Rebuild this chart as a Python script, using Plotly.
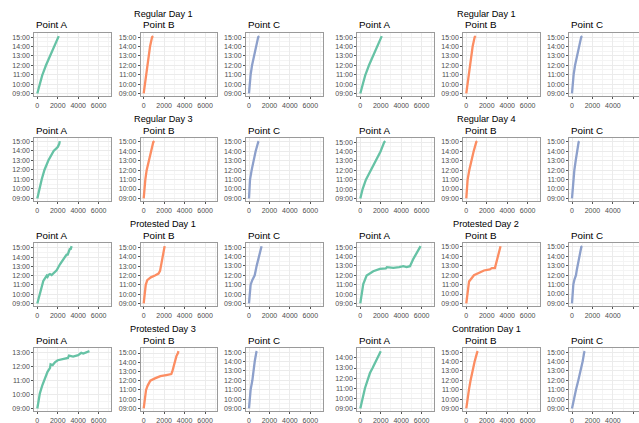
import plotly.graph_objects as go

# ---------------- data ----------------
group_titles = ["Regular Day 1", "Regular Day 1", "Regular Day 3", "Regular Day 4",
                "Protested Day 1", "Protested Day 2", "Protested Day 3", "Contration Day 1"]
point_names = ["Point A", "Point B", "Point C"]
point_colors = ["#66C2A5", "#FC8D62", "#8DA0CB"]
x_ticks = [0, 2000, 4000, 6000]
x_minor = [1000, 3000, 5000, 7000]

# Regular Day 1
rd1_a_x = [0, 150, 290, 270, 500, 520, 850, 1250, 1270, 1650, 2000, 2100]
rd1_a_t = ["09:00", "09:30", "10:00", "10:05", "11:00", "11:02", "12:00", "13:00", "13:04", "14:00", "15:00", "15:06"]
rd1_b_x = [0, 60, 120, 220, 330, 450, 620, 820, 930]
rd1_b_t = ["09:00", "09:30", "10:00", "11:00", "12:00", "13:00", "14:00", "15:00", "15:06"]
rd1_c_x = [0, 50, 160, 300, 490, 690, 900, 1000]
rd1_c_t = ["09:00", "10:00", "11:00", "12:00", "13:00", "14:00", "15:00", "15:06"]

# Regular Day 3
rd3_a_x = [0, 200, 430, 700, 1000, 1080, 1600, 2000, 2150, 2200]
rd3_a_t = ["09:00", "10:00", "11:00", "12:00", "12:50", "13:00", "14:00", "14:25", "14:45", "15:02"]
rd3_b_x = [0, 70, 160, 290, 520, 680, 940, 1050]
rd3_b_t = ["09:00", "10:00", "11:00", "12:00", "13:00", "14:00", "15:00", "15:05"]
rd3_c_x = [0, 40, 100, 260, 420, 650, 910, 960]
rd3_c_t = ["09:00", "10:00", "11:00", "12:00", "13:00", "14:00", "15:00", "15:04"]

# Regular Day 4
rd4_a_x = [0, 227, 550, 1010, 1530, 1980, 2340, 2450]
rd4_a_t = ["09:00", "10:00", "11:00", "12:00", "13:00", "14:00", "15:00", "15:06"]
rd4_b_x = [0, 60, 130, 290, 490, 720, 980, 1060]
rd4_b_t = ["09:00", "10:00", "11:00", "12:00", "13:00", "14:00", "15:00", "15:05"]
rd4_c_x = [0, 60, 130, 230, 360, 490, 650, 720]
rd4_c_t = ["09:00", "10:00", "11:00", "12:00", "13:00", "14:00", "15:00", "15:05"]

# Protested Day 1
pd1_a_x = [0, 326, 587, 913, 1000, 1100, 1240, 1400, 1566, 1700, 1892, 2218, 2708, 2900, 2950, 3197, 3250, 3360]
pd1_a_t = ["09:00", "10:22", "11:26", "11:59", "11:52", "12:05", "12:10", "12:04", "12:16", "12:22", "12:35", "13:14", "14:07", "14:20", "14:12", "14:56", "14:48", "15:11"]
pd1_b_x = [0, 80, 200, 350, 700, 1100, 1450, 1600, 1750, 1900, 2050]
pd1_b_t = ["09:00", "10:00", "11:00", "11:30", "11:48", "12:00", "12:12", "12:30", "13:30", "14:30", "15:09"]
pd1_c_x = [0, 100, 160, 330, 560, 750, 980, 1140, 1230]
pd1_c_t = ["09:00", "10:00", "11:00", "11:30", "12:00", "13:00", "14:00", "15:00", "15:06"]

# Protested Day 2
pd2_a_x = [0, 290, 620, 1270, 1920, 2500, 2600, 3230, 3800, 4200, 4530, 4860, 5190, 5680, 5840, 5900]
pd2_a_t = ["09:00", "11:04", "11:58", "12:26", "12:41", "12:44", "12:52", "12:47", "12:52", "12:58", "12:52", "12:58", "13:45", "14:42", "15:04", "15:06"]
pd2_b_x = [0, 120, 270, 750, 1200, 1730, 2300, 2500, 2800, 2900, 3100, 3300, 3350]
pd2_b_t = ["09:00", "10:00", "11:20", "12:00", "12:15", "12:30", "12:37", "12:45", "12:45", "13:10", "14:05", "14:55", "15:05"]
pd2_c_x = [0, 60, 130, 230, 390, 460, 550, 750, 910, 1000]
pd2_c_t = ["09:00", "10:00", "11:00", "11:30", "12:00", "12:30", "13:00", "14:00", "15:00", "15:05"]

# Protested Day 3
pd3_a_x = [0, 250, 500, 750, 1000, 1250, 1300, 1500, 1750, 2000, 2500, 3000, 3100, 3500, 4000, 4300, 4500, 5000, 5100]
pd3_a_t = ["09:00", "10:05", "10:41", "11:10", "11:38", "11:55", "12:10", "12:07", "12:20", "12:28", "12:33", "12:38", "12:48", "12:44", "12:50", "13:00", "12:57", "13:04", "13:07"]
pd3_b_x = [0, 100, 230, 400, 650, 1100, 1630, 2200, 2700, 2800, 3000, 3200, 3350, 3400]
pd3_b_t = ["09:00", "10:00", "11:00", "11:30", "12:00", "12:15", "12:30", "12:37", "12:43", "13:00", "14:00", "14:40", "15:00", "15:12"]
pd3_c_x = [0, 80, 160, 330, 430, 560, 720, 770]
pd3_c_t = ["09:00", "10:00", "11:00", "12:00", "13:00", "14:00", "15:00", "15:06"]

# Contration Day 1
cd1_a_x = [0, 230, 455, 780, 945, 1200, 1430, 1660, 1920, 2000]
cd1_a_t = ["09:00", "10:00", "11:00", "12:00", "12:30", "13:00", "13:30", "14:00", "14:30", "14:40"]
cd1_b_x = [0, 100, 260, 420, 590, 815, 1070, 1130]
cd1_b_t = ["09:00", "10:00", "11:00", "12:00", "13:00", "14:00", "15:00", "15:06"]
cd1_c_x = [0, 160, 390, 620, 850, 1040, 1200, 1250]
cd1_c_t = ["09:00", "10:00", "11:00", "12:00", "13:00", "14:00", "15:00", "15:06"]

group_series = [
    [(rd1_a_x, rd1_a_t), (rd1_b_x, rd1_b_t), (rd1_c_x, rd1_c_t)],
    [(rd1_a_x, rd1_a_t), (rd1_b_x, rd1_b_t), (rd1_c_x, rd1_c_t)],
    [(rd3_a_x, rd3_a_t), (rd3_b_x, rd3_b_t), (rd3_c_x, rd3_c_t)],
    [(rd4_a_x, rd4_a_t), (rd4_b_x, rd4_b_t), (rd4_c_x, rd4_c_t)],
    [(pd1_a_x, pd1_a_t), (pd1_b_x, pd1_b_t), (pd1_c_x, pd1_c_t)],
    [(pd2_a_x, pd2_a_t), (pd2_b_x, pd2_b_t), (pd2_c_x, pd2_c_t)],
    [(pd3_a_x, pd3_a_t), (pd3_b_x, pd3_b_t), (pd3_c_x, pd3_c_t)],
    [(cd1_a_x, cd1_a_t), (cd1_b_x, cd1_b_t), (cd1_c_x, cd1_c_t)],
]


def to_hours(t):
    h, m = t.split(":")
    return int(h) + int(m) / 60.0


# ---------------- layout ----------------
W, H = 639, 423
FONT = "Liberation Sans, Arial, Helvetica, sans-serif"
col_left = [34.3, 140.7, 246.0, 357.3, 463.3, 569.0]
panel_w = 76.7
row_top = [33.3, 138.3, 243.3, 348.3]
panel_h = 63.0
group_center = [163, 486]
x_lo, x_hi = -293, 7210
border = "#9a9a9a"
grid_major = "#EBEBEB"
grid_minor = "#F4F4F4"

fig = go.Figure()
layout = dict(
    width=W, height=H, margin=dict(l=0, r=0, t=0, b=0),
    paper_bgcolor="white", plot_bgcolor="white", showlegend=False,
    font=dict(family=FONT, color="#000000"),
    template="none",
)
annotations = []

for g, title in enumerate(group_titles):
    r, gc = divmod(g, 2)
    annotations.append(dict(text=title, x=group_center[gc] / W, y=1 - (row_top[r] - 19.3) / H,
                            xref="paper", yref="paper", xanchor="center", yanchor="middle",
                            showarrow=False, font=dict(size=9.2, color="#000000", family=FONT)))
    for p in range(3):
        c = gc * 3 + p
        k = r * 6 + c + 1
        xs, ts = group_series[g][p]
        ys = [to_hours(t) for t in ts]
        ax = "" if k == 1 else str(k)
        fig.add_trace(go.Scatter(x=xs, y=ys, mode="lines",
                                 line=dict(color=point_colors[p], width=2.3),
                                 xaxis="x" + ax, yaxis="y" + ax, hoverinfo="skip"))
        left = col_left[c]
        right = min(left + panel_w, W)
        xr_hi = x_lo + (right - left) / panel_w * (x_hi - x_lo)
        ymin, ymax = min(ys), max(ys)
        span = ymax - ymin
        yr = [ymin - 0.05 * span, ymax + 0.05 * span]
        hours = [h for h in range(0, 24) if yr[0] <= h <= yr[1]]
        halves = [h + 0.5 for h in range(0, 24) if yr[0] <= h + 0.5 <= yr[1]]
        clipped = right < left + panel_w
        layout["xaxis" + ax] = dict(
            domain=[left / W, right / W], anchor="y" + ax, range=[x_lo, xr_hi],
            showline=True, linecolor=border, linewidth=1, mirror=True,
            ticks="outside", ticklen=2, tickcolor="#555555", tickwidth=0.8,
            tickvals=x_ticks, ticktext=[str(v) for v in x_ticks],
            tickfont=dict(size=7, color="#4D4D4D", family=FONT),
            showgrid=True, gridcolor=grid_major, gridwidth=1, zeroline=False,
            minor=dict(tickvals=x_minor, showgrid=True, gridcolor=grid_minor, gridwidth=0.6, ticks=""),
            automargin=False, fixedrange=True,
        )
        layout["yaxis" + ax] = dict(
            domain=[1 - (row_top[r] + panel_h) / H, 1 - row_top[r] / H], anchor="x" + ax, range=yr,
            showline=True, linecolor=border, linewidth=1, mirror=(not clipped),
            ticks="outside", ticklen=2, tickcolor="#555555", tickwidth=0.8,
            tickvals=hours, ticktext=["%02d:00" % h for h in hours],
            tickfont=dict(size=7, color="#4D4D4D", family=FONT),
            showgrid=True, gridcolor=grid_major, gridwidth=1, zeroline=False,
            minor=dict(tickvals=halves, showgrid=True, gridcolor=grid_minor, gridwidth=0.6, ticks=""),
            automargin=False, fixedrange=True,
        )
        annotations.append(dict(text=point_names[p], x=left / W, y=1 - (row_top[r] - 8.3) / H,
                                xref="paper", yref="paper", xanchor="left", yanchor="middle",
                                showarrow=False, font=dict(size=9.8, color="#000000", family=FONT)))

layout["annotations"] = annotations
fig.update_layout(**layout)
fig.write_html("out.html", config={"displayModeBar": False})
